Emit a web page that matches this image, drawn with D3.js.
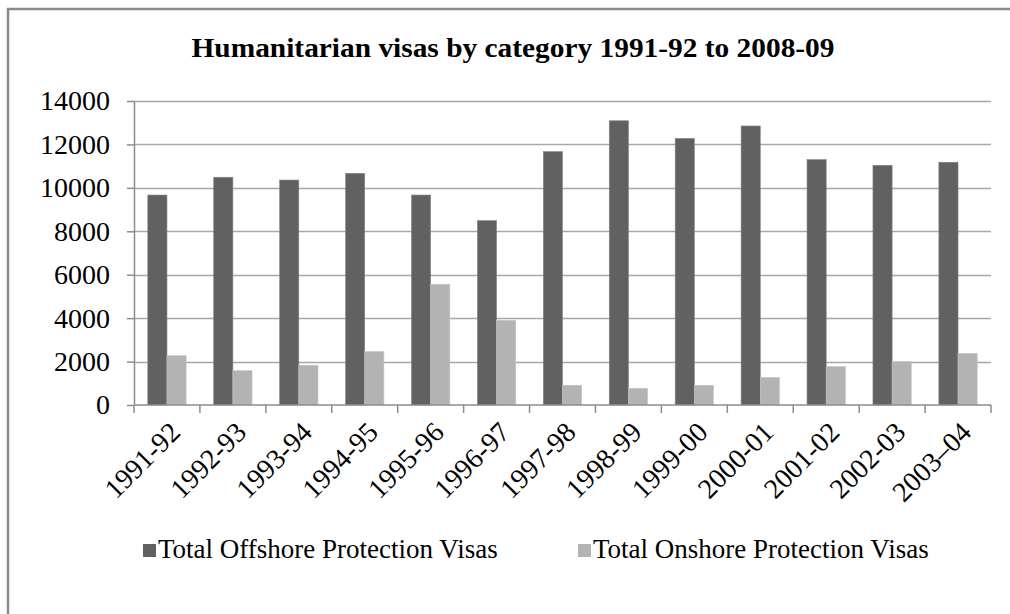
<!DOCTYPE html>
<html>
<head>
<meta charset="utf-8">
<script src="https://cdn.jsdelivr.net/npm/d3@7"></script>
<style>
  html, body { margin: 0; padding: 0; background: #fff; }
  svg text { font-family: "Liberation Serif", "Times New Roman", "DejaVu Serif", serif; }
</style>
</head>
<body>
<div id="chart"></div>
<script>
const years = ['1991-92', '1992-93', '1993-94', '1994-95', '1995-96', '1996-97', '1997-98',
  '1998-99', '1999-00', '2000-01', '2001-02', '2002-03', '2003\u201304'];
const offshore = [9670, 10490, 10360, 10670, 9670, 8490, 11670, 13090, 12280, 12850, 11300, 11040, 11180];
const onshore = [2270, 1580, 1830, 2460, 5560, 3900, 910, 770, 910, 1270, 1770, 2000, 2380];
const seriesNames = ['Total Offshore Protection Visas', 'Total Onshore Protection Visas'];
const yTicks = [0, 2000, 4000, 6000, 8000, 10000, 12000, 14000];

const width = 1010;
const height = 614;
const margin = { top: 101, right: 19, bottom: 209, left: 134 };
const serif = '"Liberation Serif", "Times New Roman", "DejaVu Serif", serif';

const colors = ['#616161', '#b3b3b3'];
const gridColor = '#a8a8a8';
const axisColor = '#8c8c8c';

const rows = years.map((yr, i) => ({ year: yr, values: [offshore[i], onshore[i]] }));

const svg = d3.select('#chart')
  .append('svg')
  .attr('width', width)
  .attr('height', height);

// outer frame, only top and left edges sit inside the picture
svg.append('path')
  .attr('d', `M8,${height}V9H${width}`)
  .attr('fill', 'none')
  .attr('stroke', '#8a8a8a')
  .attr('stroke-width', 2.5);

const x = d3.scaleBand()
  .domain(years)
  .range([margin.left, width - margin.right]);

const xInner = d3.scaleBand()
  .domain([0, 1])
  .range([0, x.bandwidth()])
  .paddingOuter(0.72);

const y = d3.scaleLinear()
  .domain([0, 14000])
  .range([height - margin.bottom, margin.top]);

// title
svg.append('text')
  .attr('x', 513)
  .attr('y', 57)
  .attr('text-anchor', 'middle')
  .style('font-family', serif)
  .style('font-size', '28px')
  .style('font-weight', 700)
  .attr('textLength', 643)
  .attr('lengthAdjust', 'spacingAndGlyphs')
  .text('Humanitarian visas by category 1991-92 to 2008-09');

// gridlines
svg.append('g')
  .selectAll('line')
  .data(yTicks.filter(d => d > 0))
  .join('line')
  .attr('x1', margin.left)
  .attr('x2', width - margin.right)
  .attr('y1', d => Math.round(y(d)) + 0.5)
  .attr('y2', d => Math.round(y(d)) + 0.5)
  .attr('stroke', gridColor)
  .attr('stroke-width', 1.5);

// y axis
const yAxis = d3.axisLeft(y)
  .tickValues(yTicks)
  .tickSizeInner(7)
  .tickSizeOuter(0)
  .tickPadding(17)
  .tickFormat(d3.format('d'));

svg.append('g')
  .attr('transform', `translate(${margin.left},0)`)
  .call(yAxis)
  .attr('font-family', serif)
  .attr('font-size', 28)
  .call(g => g.select('.domain').attr('stroke', axisColor).attr('stroke-width', 1.5))
  .call(g => g.selectAll('.tick line').attr('stroke', axisColor).attr('stroke-width', 1.5))
  .call(g => g.selectAll('.tick text').attr('fill', '#000'));

// bars
const groups = svg.append('g')
  .selectAll('g')
  .data(rows)
  .join('g')
  .attr('transform', d => `translate(${x(d.year)},0)`);

groups.selectAll('rect')
  .data(d => d.values.map((v, i) => ({ v, i })))
  .join('rect')
  .attr('x', d => xInner(d.i))
  .attr('y', d => y(d.v))
  .attr('width', xInner.bandwidth())
  .attr('height', d => y(0) - y(d.v))
  .attr('fill', d => colors[d.i])
  .attr('stroke', d => d.i === 0 ? '#858585' : '#c4c4c4')
  .attr('stroke-width', 0.6);

// x axis with ticks at category boundaries
const xAxisG = svg.append('g')
  .attr('transform', `translate(0,${y(0)})`);

xAxisG.append('line')
  .attr('x1', margin.left)
  .attr('x2', width - margin.right)
  .attr('stroke', axisColor)
  .attr('stroke-width', 1.5);

const boundaries = years.map(d => x(d)).concat([x.range()[1]]);
xAxisG.selectAll('line.tick')
  .data(boundaries)
  .join('line')
  .attr('class', 'tick')
  .attr('x1', d => d)
  .attr('x2', d => d)
  .attr('y1', 0)
  .attr('y2', 8)
  .attr('stroke', axisColor)
  .attr('stroke-width', 1.5);

xAxisG.selectAll('text')
  .data(years)
  .join('text')
  .attr('transform', d => `translate(${x(d) + x.bandwidth() / 2 + 8},${22}) rotate(-45)`)
  .attr('text-anchor', 'end')
  .attr('dy', '0.35em')
  .style('font-family', serif)
  .style('font-size', '28px')
  .text(d => d);

// legend
const legendItems = [
  { name: seriesNames[0], color: colors[0], x: 143 },
  { name: seriesNames[1], color: colors[1], x: 578 }
];

const legend = svg.append('g')
  .selectAll('g')
  .data(legendItems)
  .join('g')
  .attr('transform', d => `translate(${d.x},558)`);

legend.append('rect')
  .attr('x', 0)
  .attr('y', -14)
  .attr('width', 13)
  .attr('height', 13)
  .attr('fill', d => d.color);

legend.append('text')
  .attr('x', 15)
  .attr('y', 0)
  .style('font-family', serif)
  .style('font-size', '27px')
  .text(d => d.name);
</script>
</body>
</html>
